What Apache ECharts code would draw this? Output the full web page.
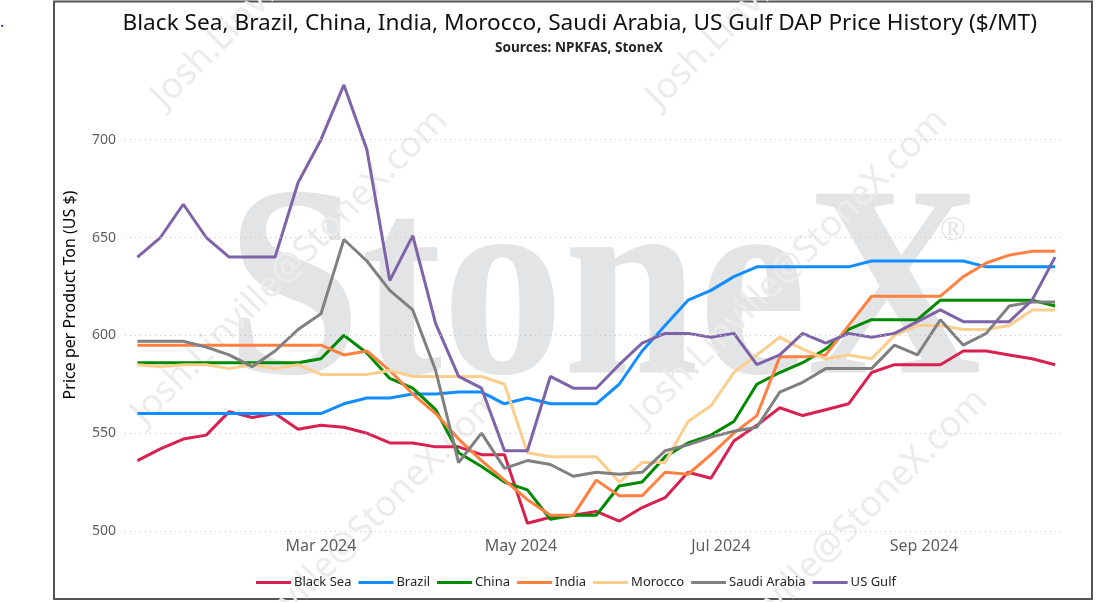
<!DOCTYPE html>
<html><head><meta charset="utf-8">
<script src="https://cdn.jsdelivr.net/npm/echarts@6/dist/echarts.min.js"></script>
<style>html,body{margin:0;padding:0;background:#fff}#c{width:1096px;height:602px}</style>
</head><body><div id="c"></div>
<script>
const weeks = ['2024-01-05','2024-01-12','2024-01-19','2024-01-26','2024-02-02','2024-02-09','2024-02-16','2024-02-23',
  '2024-03-01','2024-03-08','2024-03-15','2024-03-22','2024-03-29','2024-04-05','2024-04-12','2024-04-19','2024-04-26',
  '2024-05-03','2024-05-10','2024-05-17','2024-05-24','2024-05-31','2024-06-07','2024-06-14','2024-06-21','2024-06-28',
  '2024-07-05','2024-07-12','2024-07-19','2024-07-26','2024-08-02','2024-08-09','2024-08-16','2024-08-23','2024-08-30',
  '2024-09-06','2024-09-13','2024-09-20','2024-09-27','2024-10-04','2024-10-11'];

const blackSea = [536,542,547,549,561,558,560,552,554,553,550,545,545,543,543,539,539,504,507,508,510,505,512,517,530,527,546,554,563,559,562,565,581,585,585,585,592,592,590,588,585];
const brazil   = [560,560,560,560,560,560,560,560,560,565,568,568,570,570,571,571,565,568,565,565,565,575,592,605,618,623,630,635,635,635,635,635,638,638,638,638,638,635,635,635,635];
const china    = [586,586,586,586,586,586,586,586,588,600,591,578,573,562,540,533,525,521,506,508,508,523,525,538,545,549,556,575,581,586,593,603,608,608,608,618,618,618,618,618,615];
const india    = [595,595,595,595,595,595,595,595,595,590,592,582,570,560,547,536,526,516,508,508,526,518,518,530,529,539,550,559,589,589,590,605,620,620,620,620,630,637,641,643,643];
const morocco  = [585,584,585,585,583,585,583,585,580,580,580,582,579,579,579,579,575,540,538,538,538,525,535,535,556,564,581,590,599,593,588,590,588,600,605,605,603,603,605,613,613];
const saudi    = [597,597,597,594,590,584,592,603,611,649,638,623,613,582,535,550,532,536,534,528,530,529,530,541,544,548,551,553,571,576,583,583,583,595,590,608,595,601,615,617,617];
const usGulf   = [640,650,667,650,640,640,640,678,700,728,695,628,651,606,579,573,541,541,579,573,573,585,596,601,601,599,601,585,590,601,596,601,599,601,607,613,607,607,607,618,640];

const seriesNames = ['Black Sea','Brazil','China','India','Morocco','Saudi Arabia','US Gulf'];
const seriesValues = [blackSea, brazil, china, india, morocco, saudi, usGulf];
const seriesColors = ['#D9214F','#118DFF','#008A00','#FF8040','#FCCE8E','#808080','#7F63A8'];

const yTicks = [500,550,600,650,700];
const xTickDates = ['2024-03','2024-05','2024-07','2024-09'];
const xTickLabels = ['Mar 2024','May 2024','Jul 2024','Sep 2024'];

const titleText = 'Black Sea, Brazil, China, India, Morocco, Saudi Arabia, US Gulf DAP Price History ($/MT)';
const subText = 'Sources: NPKFAS, StoneX';

const FONT = '"Noto Sans", "Segoe UI", sans-serif';

function pad(n){return (n<10?'0':'')+n;}

// size a text so that it spans the wanted width
const mctx = document.createElement('canvas').getContext('2d');
function fitSize(text, weight, family, target, base) {
  mctx.font = weight + ' ' + base + 'px ' + family;
  return base * target / mctx.measureText(text).width;
}
const titleW = 915, subW = 168, centerX = 575;
const titleSize = fitSize(titleText, 'normal', FONT, titleW, 21);
const subSize = fitSize(subText, 'bold', FONT, subW, 12);

const series = seriesNames.map((n, k) => ({
  name: n, type: 'line', showSymbol: false, symbol: 'none',
  lineStyle: { width: 3, color: seriesColors[k] }, itemStyle: { color: seriesColors[k] },
  z: 3,
  data: weeks.map((w, i) => [w, seriesValues[k][i]])
}));

series.unshift({
  name: 'grid', type: 'line', data: [], silent: true, z: 1,
  markLine: {
    silent: true, symbol: ['none','none'], label: { show: false },
    lineStyle: { color: '#C8C6C4', width: 1, type: [1, 4] },
    data: yTicks.map(v => ({ yAxis: v }))
  }
});

const wm = '#ECECEC';
const wmStarts = [[170,115],[665,115],[150,432],[650,432],[205,712],[690,712]];

const chart = echarts.init(document.getElementById('c'), null, { renderer: 'canvas' });
chart.setOption({
  animation: false,
  backgroundColor: '#fff',
  title: [
    { text: titleText, left: centerX - titleW / 2, top: 7,
      textStyle: { fontFamily: FONT, fontSize: titleSize, fontWeight: 'normal', color: '#111' } },
    { text: subText, left: centerX - subW / 2 - 1, top: 36,
      textStyle: { fontFamily: FONT, fontSize: subSize, fontWeight: 'bold', color: '#252423' } }
  ],
  graphic: [
    { type: 'rect', z: -20, silent: true, shape: { x: 54, y: 1.5, width: 1038, height: 597.5 },
      style: { fill: '#fff', stroke: '#555', lineWidth: 2 } },
    { type: 'text', z: -15, silent: true, x: 0, y: 14, style: { text: '.', fill: '#2020ff', font: '16px ' + FONT } },
    { type: 'text', z: -10, silent: true, x: 226, y: 302, scaleX: 0.89,
      style: { text: 'StoneX', fill: '#E3E4E6', font: 'bold 273px "Liberation Serif", serif', textAlign: 'left', textVerticalAlign: 'middle' } },
    { type: 'text', z: -10, silent: true, x: 953, y: 231,
      style: { text: '®', fill: '#E3E4E6', font: '34px "Liberation Serif", serif', textAlign: 'center', textVerticalAlign: 'middle' } }
  ].concat(wmStarts.map(p => ({
    type: 'text', z: -9, silent: true, x: p[0], y: p[1], rotation: Math.PI / 4,
    style: { text: 'Josh.Linville@StoneX.com', fill: wm, font: '36px ' + FONT, textAlign: 'left', textVerticalAlign: 'bottom' }
  }))),
  legend: {
    data: seriesNames, left: 251, top: 571, icon: 'rect', itemWidth: 35, itemHeight: 3, itemGap: 7,
    textStyle: { fontFamily: FONT, fontSize: 13, color: '#252423', padding: [0,0,0,-2] }
  },
  grid: { left: 125, right: 33, top: 81, bottom: 71, containLabel: false },
  xAxis: {
    type: 'time',
    min: new Date(2024, 0, 1, 5).getTime(),
    max: new Date(2024, 9, 13, 10).getTime(),
    splitNumber: 10,
    axisLine: { show: false }, axisTick: { show: false }, splitLine: { show: false },
    axisLabel: {
      margin: 7, color: '#605E5C', fontFamily: FONT, fontSize: 16, hideOverlap: false,
      formatter: function (value) {
        const d = new Date(value);
        if (d.getDate() !== 1) return '';
        const key = d.getFullYear() + '-' + pad(d.getMonth() + 1);
        const idx = xTickDates.indexOf(key);
        return idx >= 0 ? xTickLabels[idx] : '';
      }
    }
  },
  yAxis: {
    type: 'value', min: 500, max: 730, interval: 50,
    name: 'Price per Product Ton (US $)', nameLocation: 'middle', nameGap: 47,
    nameTextStyle: { fontFamily: FONT, fontSize: 16, color: '#000', padding: [0, 0, 0, 22] },
    axisLine: { show: false }, axisTick: { show: false }, splitLine: { show: false },
    axisLabel: {
      margin: 9, color: '#605E5C', fontFamily: FONT, fontSize: 14, showMaxLabel: false,
      formatter: v => (yTicks.indexOf(v) >= 0 ? String(v) : '')
    }
  },
  series: series
});
</script></body></html>
